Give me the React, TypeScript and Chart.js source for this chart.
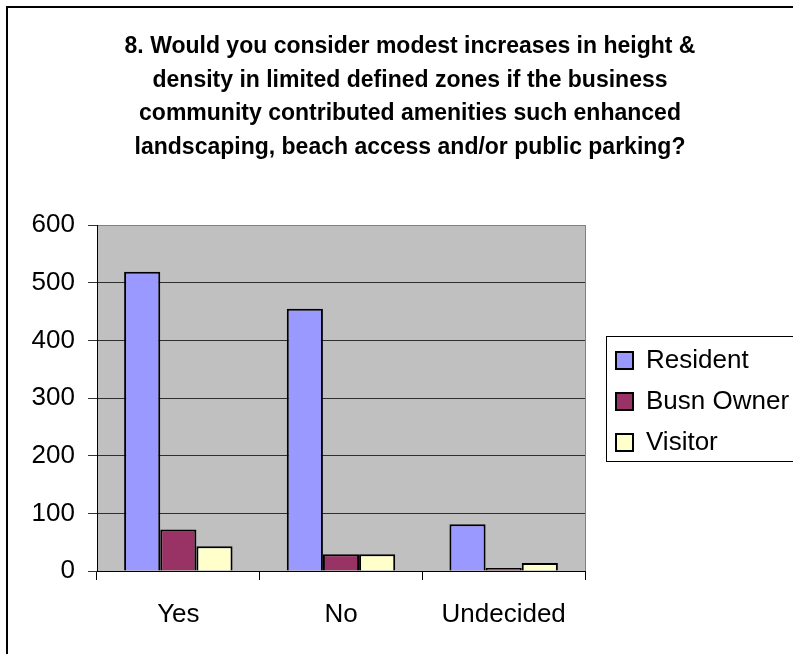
import React, { useEffect, useRef } from "react";
import { Chart, registerables } from "chart.js";

Chart.register(...registerables);

const categories = ["Yes", "No", "Undecided"];
const seriesNames = ["Resident", "Busn Owner", "Visitor"];
const residentValues = [519, 455, 81];
const busnOwnerValues = [72, 29, 5];
const visitorValues = [43, 29, 14];
const yTicks = [0, 100, 200, 300, 400, 500, 600];
const titleLines = [
  "8. Would you consider modest increases in height &",
  "density in limited defined zones if the business",
  "community contributed amenities such enhanced",
  "landscaping, beach access and/or public parking?",
];

const FONT = "'Liberation Sans', Arial, sans-serif";
const W = 793;
const H = 654;

// Grey plot background, grey top/right plot border, outer frame and legend frame
const decorations = {
  id: "decorations",
  beforeDraw(chart: any) {
    const { ctx, chartArea: a } = chart;
    ctx.save();
    ctx.fillStyle = "#ffffff";
    ctx.fillRect(0, 0, chart.width, chart.height);
    ctx.fillStyle = "#c0c0c0";
    ctx.fillRect(a.left, a.top, a.right - a.left, a.bottom - a.top);
    ctx.restore();
  },
  beforeDatasetsDraw(chart: any) {
    const { ctx, chartArea: a } = chart;
    ctx.save();
    ctx.strokeStyle = "#808080";
    ctx.lineWidth = 1;
    ctx.beginPath();
    ctx.moveTo(a.right + 0.5, a.top);
    ctx.lineTo(a.right + 0.5, a.bottom);
    ctx.stroke();
    ctx.restore();
  },
  afterDraw(chart: any) {
    const { ctx } = chart;
    ctx.save();
    ctx.fillStyle = "#000000";
    ctx.fillRect(6, 6, 2, chart.height);
    ctx.fillRect(6, 6, chart.width, 2);
    const hb = chart.legend && chart.legend.legendHitBoxes;
    if (hb && hb.length) {
      const first = hb[0];
      const last = hb[hb.length - 1];
      const x = first.left - 10;
      const y = first.top + first.height / 2 - 25;
      const bottom = last.top + last.height / 2 + 18;
      ctx.strokeStyle = "#000000";
      ctx.lineWidth = 1;
      ctx.strokeRect(x + 0.5, Math.round(y) + 0.5, chart.width, Math.round(bottom - y));
    }
    ctx.restore();
  },
};

export default function App() {
  const canvasRef = useRef<HTMLCanvasElement | null>(null);

  useEffect(() => {
    const canvas = canvasRef.current;
    if (!canvas) return;
    const chart = new Chart(canvas, {
      type: "bar",
      data: {
        labels: categories,
        datasets: [
          {
            label: seriesNames[0],
            data: residentValues,
            backgroundColor: "#9999ff",
            borderColor: "#000000",
            borderWidth: 2,
          },
          {
            label: seriesNames[1],
            data: busnOwnerValues,
            backgroundColor: "#993366",
            borderColor: "#000000",
            borderWidth: 2,
          },
          {
            label: seriesNames[2],
            data: visitorValues,
            backgroundColor: "#ffffcc",
            borderColor: "#000000",
            borderWidth: 2,
          },
        ],
      },
      options: {
        responsive: false,
        animation: false,
        events: [],
        layout: { padding: { left: 27, top: 0, right: 0, bottom: 0 } },
        datasets: {
          bar: { categoryPercentage: 2 / 3, barPercentage: 1 },
        },
        scales: {
          x: {
            offset: true,
            grid: {
              display: true,
              drawOnChartArea: false,
              drawTicks: true,
              tickLength: 9,
              offset: true,
              color: "#000000",
            },
            border: { display: true, color: "#000000", width: 1 },
            ticks: {
              color: "#000000",
              padding: 19,
              font: { family: FONT, size: 26 },
            },
            afterFit(s: any) {
              s.height = 83;
            },
          },
          y: {
            min: 0,
            max: 600,
            afterBuildTicks(s: any) {
              s.ticks = yTicks.map((v) => ({ value: v }));
            },
            grid: {
              color: (c: any) => (c.tick && c.tick.value === 600 ? "#808080" : "#2e2e2e"),
              tickColor: "#333333",
              tickLength: 9,
              lineWidth: 1,
            },
            border: { display: true, color: "#000000", width: 1 },
            ticks: {
              color: "#000000",
              padding: 13,
              font: { family: FONT, size: 26 },
            },
            afterFit(s: any) {
              s.width = 70;
            },
          },
          gap: {
            type: "linear",
            position: "right",
            display: true,
            grid: { display: false, drawTicks: false },
            border: { display: false },
            ticks: { display: false },
            afterFit(s: any) {
              s.width = 16;
            },
          },
        },
        plugins: {
          tooltip: { enabled: false },
          title: {
            display: true,
            text: titleLines,
            color: "#000000",
            font: { family: FONT, size: 23, weight: "bold", lineHeight: 1.457 },
            padding: { top: 30, bottom: 61 },
          },
          legend: {
            display: true,
            position: "right",
            fullSize: false,
            maxWidth: 192,
            title: { display: true, text: "", font: { size: 1, lineHeight: 1 }, padding: 3 },
            labels: {
              color: "#000000",
              boxWidth: 17,
              boxHeight: 17,
              padding: 15,
              font: { family: FONT, size: 26 },
            },
          },
        },
      },
      plugins: [decorations],
    } as any);
    return () => chart.destroy();
  }, []);

  return (
    <div style={{ position: "absolute", left: 0, top: 0, width: W, height: H, overflow: "hidden" }}>
      <canvas ref={canvasRef} width={W} height={H} style={{ display: "block" }} />
    </div>
  );
}
